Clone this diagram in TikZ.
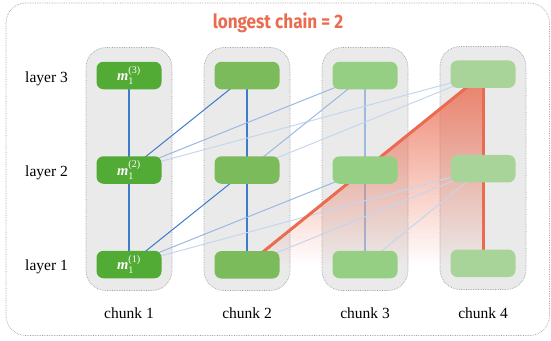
\documentclass[tikz,border=0pt]{standalone}
\usepackage{fontspec}
\setmainfont{Liberation Serif}
\newfontfamily\titlefont{Fira Sans}
\usepackage{amsmath}
\usepackage{graphicx}
\usetikzlibrary{fadings}
\pgfdeclarelayer{bg}
\pgfdeclarelayer{mid}
\pgfsetlayers{bg,mid,main}
\definecolor{gA}{HTML}{52AB34}
\definecolor{gB}{HTML}{7CBB5B}
\definecolor{gC}{HTML}{94CF84}
\definecolor{gD}{HTML}{A8D499}
\definecolor{boxgray}{HTML}{EAEAEA}
\definecolor{dotgray}{HTML}{A0A0A0}
\definecolor{blueA}{HTML}{3F7BCB}
\definecolor{blueB}{HTML}{9CB9E0}
\definecolor{blueC}{HTML}{C4D6EE}
\definecolor{orangeT}{HTML}{EA6B50}
\tikzfading[name=fadedown, top color=transparent!15, middle color=transparent!48, bottom color=transparent!100]
\tikzset{
  mnode/.style={rectangle, rounded corners=7pt, minimum width=65pt, minimum height=27.5pt, inner sep=0pt, text=white, font=\fontsize{14.5}{16}\selectfont},
  chunkbox/.style={rectangle, rounded corners=20pt, fill=boxgray, draw=dotgray, densely dotted, line width=0.7pt, minimum width=86pt, minimum height=243pt, inner sep=0pt},
  lab/.style={font=\fontsize{15.5}{18}\selectfont, anchor=base, inner sep=0pt},
  dk/.style={draw=blueA, line width=1pt},
  md/.style={draw=blueB, line width=1pt},
  lt/.style={draw=blueC, line width=1pt},
  vdk/.style={draw=blueA, line width=1.2pt},
  vmd/.style={draw=blueB, line width=1.2pt},
  hot/.style={draw=orangeT, line width=3pt}
}
\newcommand{\mlab}[1]{{\bfseries\itshape m}$_{\text{1}}^{\text{(#1)}}$}
\begin{document}
\begin{tikzpicture}[x=1pt,y=-1pt]
\useasboundingbox (0,0) rectangle (551,340);
\begin{pgfonlayer}{bg}
\draw[dotgray, densely dotted, line width=0.7pt, rounded corners=20pt] (6,3) rectangle (549.5,335.5);
\node[chunkbox] (b1) at (129,169) {};
\node[chunkbox] (b2) at (247,169) {};
\node[chunkbox] (b3) at (365,169) {};
\node[chunkbox] (b4) at (483,168) {};
\end{pgfonlayer}

\node[anchor=base, text=orangeT, inner sep=0pt] (title) at (278,28.3) {\resizebox{130.5pt}{\height}{\titlefont\bfseries\fontsize{19.5}{22}\selectfont longest chain = 2}};

\node[mnode, fill=gA] (n13) at (129,75.5) {\mlab{3}};
\node[mnode, fill=gA] (n12) at (129,170) {\mlab{2}};
\node[mnode, fill=gA] (n11) at (129,264.5) {\mlab{1}};
\node[mnode, fill=gB] (n23) at (247,75.5) {};
\node[mnode, fill=gB] (n22) at (247,170) {};
\node[mnode, fill=gB] (n21) at (247,264.8) {};
\node[mnode, fill=gC] (n33) at (365,75.5) {};
\node[mnode, fill=gC] (n32) at (365,170) {};
\node[mnode, fill=gC] (n31) at (365,264.5) {};
\node[mnode, fill=gD] (n43) at (483,74.2) {};
\node[mnode, fill=gD] (n42) at (483,168.7) {};
\node[mnode, fill=gD] (n41) at (483,263.3) {};

\begin{pgfonlayer}{mid}
\draw[vdk] (n11.center) -- (n12.center);
\draw[vdk] (n12.center) -- (n13.center);
\draw[vdk] (n21.center) -- (n22.center);
\draw[vdk] (n22.center) -- (n23.center);
\draw[vmd] (n31.center) -- (n32.center);
\draw[vmd] (n32.center) -- (n33.center);
\fill[orangeT, path fading=fadedown] (n21.center) -- (n43.center) -- (n41.center) -- cycle;
\draw[lt] (n43.center) -- (n12.center);
\draw[lt] (n43.center) -- (n22.center);
\draw[lt] (n43.center) -- (n32.center);
\draw[lt] (n42.center) -- (n11.center);
\draw[lt] (n42.center) -- (n21.center);
\draw[lt] (n42.center) -- (n31.center);
\draw[md] (n33.center) -- (n12.center);
\draw[md] (n33.center) -- (n22.center);
\draw[md] (n32.center) -- (n11.center);
\draw[md] (n32.center) -- (n21.center);
\draw[dk] (n23.center) -- (n12.center);
\draw[dk] (n22.center) -- (n11.center);
\draw[hot] (n21.center) -- (n43.center);
\draw[hot] (n43.center) -- (n41.center);
\end{pgfonlayer}

\node[lab] (ly3) at (46.5,82.3) {layer 3};
\node[lab] (ly2) at (46.5,176.6) {layer 2};
\node[lab] (ly1) at (46.5,270.8) {layer 1};
\node[lab] (c1) at (129,318.2) {chunk 1};
\node[lab] (c2) at (247,318.2) {chunk 2};
\node[lab] (c3) at (365,318.2) {chunk 3};
\node[lab] (c4) at (483,318.2) {chunk 4};
\end{tikzpicture}
\end{document}
